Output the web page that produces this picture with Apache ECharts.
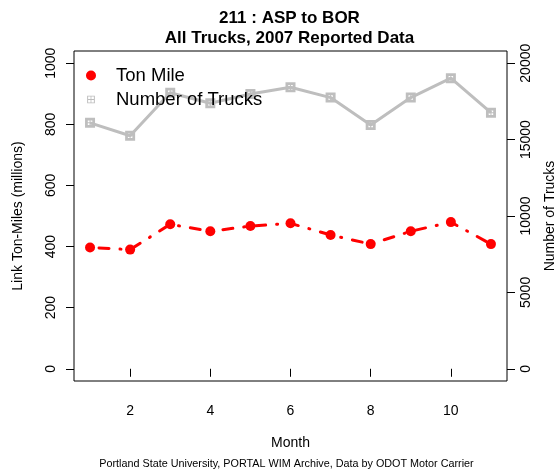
<!DOCTYPE html>
<html>
<head>
<meta charset="utf-8">
<script src="https://cdn.jsdelivr.net/npm/echarts@6/dist/echarts.min.js"></script>
<style>
  html, body { margin: 0; padding: 0; background: #fff; }
  #chart { width: 559px; height: 475px; }
</style>
</head>
<body>
<div id="chart"></div>
<script>
// Monthly figures for station 211 (ASP to BOR), 2007
const months = [1, 2, 3, 4, 5, 6, 7, 8, 9, 10, 11];
const tonMiles = [397, 390, 473, 450, 467, 476, 438, 408, 450, 480, 408];      // millions
const truckCounts = [16100, 15250, 18070, 17380, 17990, 18430, 17750, 15960, 17750, 19020, 16760];

const monthTicks = [2, 4, 6, 8, 10];
const tonTicks = [0, 200, 400, 600, 800, 1000];
const truckTicks = [0, 5000, 10000, 15000, 20000];

const FONT = "'Liberation Sans', Arial, Helvetica, sans-serif";
const plain = v => String(v);

// square marker with a cross: outer square, four holes wound the other way
const crossSquare = 'path://M0 0L20 0L20 20L0 20Z' +
  'M5.5 5.5L5.5 9L9 9L9 5.5Z' +
  'M11 5.5L11 9L14.5 9L14.5 5.5Z' +
  'M5.5 11L5.5 14.5L9 14.5L9 11Z' +
  'M11 11L11 14.5L14.5 14.5L14.5 11Z';

// thin outline square with a cross, padded by two bare move-to points
const crossSquareThin = 'path://M-3 -3M23 23' +
  'M0 0L20 0L20 20L0 20Z M2.5 2.5L2.5 17.5L17.5 17.5L17.5 2.5Z' +
  'M9 2.5L11 2.5L11 17.5L9 17.5Z M2.5 9L17.5 9L17.5 11L2.5 11Z';

const chart = echarts.init(document.getElementById('chart'), null, { renderer: 'canvas' });

chart.setOption({
  animation: false,
  backgroundColor: '#ffffff',
  textStyle: { fontFamily: FONT, color: '#000' },
  title: [
    {
      text: '211 : ASP to BOR\nAll Trucks, 2007 Reported Data',
      left: 289.5, top: 8, textAlign: 'center', padding: 0,
      textStyle: { fontFamily: FONT, fontSize: 17, fontWeight: 'bold', color: '#000', lineHeight: 20 }
    },
    {
      text: 'Portland State University, PORTAL WIM Archive, Data by ODOT Motor Carrier',
      left: 286.5, top: 459, textAlign: 'center', padding: 0,
      textStyle: { fontFamily: FONT, fontSize: 10.8, fontWeight: 'normal', color: '#000' }
    }
  ],
  legend: {
    orient: 'vertical',
    left: 81, top: 61,
    itemWidth: 10, itemHeight: 10, itemGap: 5,
    textStyle: { fontFamily: FONT, fontSize: 18.5, color: '#000', padding: [0, 0, 0, 15] },
    data: [
      { name: 'Ton Mile', icon: 'circle', itemStyle: { color: '#ff0000' } },
      { name: 'Number of Trucks', icon: crossSquareThin, itemStyle: { color: '#bdbdbd', borderWidth: 0 } }
    ]
  },
  grid: {
    left: 74, right: 52, top: 51, height: 330,
    outerBoundsMode: 'none',
    show: true, borderColor: '#000', borderWidth: 1, backgroundColor: 'transparent'
  },
  xAxis: {
    type: 'value', min: 0.6, max: 11.4,
    name: 'Month', nameLocation: 'middle', nameGap: 55,
    nameTextStyle: { fontFamily: FONT, fontSize: 14, color: '#000' },
    axisLine: { show: false },
    splitLine: { show: false },
    axisTick: { show: true, length: 8, lineStyle: { color: '#000' }, customValues: monthTicks },
    axisLabel: { fontFamily: FONT, fontSize: 14, color: '#000', margin: 23, customValues: monthTicks, formatter: plain }
  },
  yAxis: [
    {
      type: 'value', min: -40, max: 1040, position: 'left',
      name: 'Link Ton-Miles (millions)', nameLocation: 'middle', nameRotate: 90, nameGap: 49,
      nameTextStyle: { fontFamily: FONT, fontSize: 14, color: '#000' },
      axisLine: { show: false },
      splitLine: { show: false },
      axisTick: { show: true, length: 8, lineStyle: { color: '#000' }, customValues: tonTicks },
      axisLabel: { fontFamily: FONT, fontSize: 14, color: '#000', rotate: 90, margin: 16, customValues: tonTicks, formatter: plain }
    },
    {
      type: 'value', min: -800, max: 20800, position: 'right',
      name: 'Number of Trucks', nameLocation: 'middle', nameRotate: 90, nameGap: 36,
      nameTextStyle: { fontFamily: FONT, fontSize: 14, color: '#000' },
      axisLine: { show: false },
      splitLine: { show: false },
      axisTick: { show: true, length: 8, lineStyle: { color: '#000' }, customValues: truckTicks },
      axisLabel: { fontFamily: FONT, fontSize: 14, color: '#000', rotate: 90, margin: 12, customValues: truckTicks, formatter: plain }
    }
  ],
  series: [
    {
      name: 'Ton Mile', type: 'line', yAxisIndex: 0,
      data: months.map((m, i) => [m, tonMiles[i]]),
      symbol: 'circle', symbolSize: 10,
      itemStyle: { color: '#ff0000' },
      // dot-dash pattern: dot, gap, dash, gap
      lineStyle: { color: '#ff0000', width: 3, type: [1, 11, 10, 11], dashOffset: 3, cap: 'round' },
      z: 3
    },
    {
      name: 'Number of Trucks', type: 'line', yAxisIndex: 1,
      data: months.map((m, i) => [m, truckCounts[i]]),
      symbol: crossSquare, symbolSize: 10,
      itemStyle: { color: '#bebebe' },
      lineStyle: { color: '#bebebe', width: 3 },
      z: 2
    }
  ]
});
</script>
</body>
</html>
